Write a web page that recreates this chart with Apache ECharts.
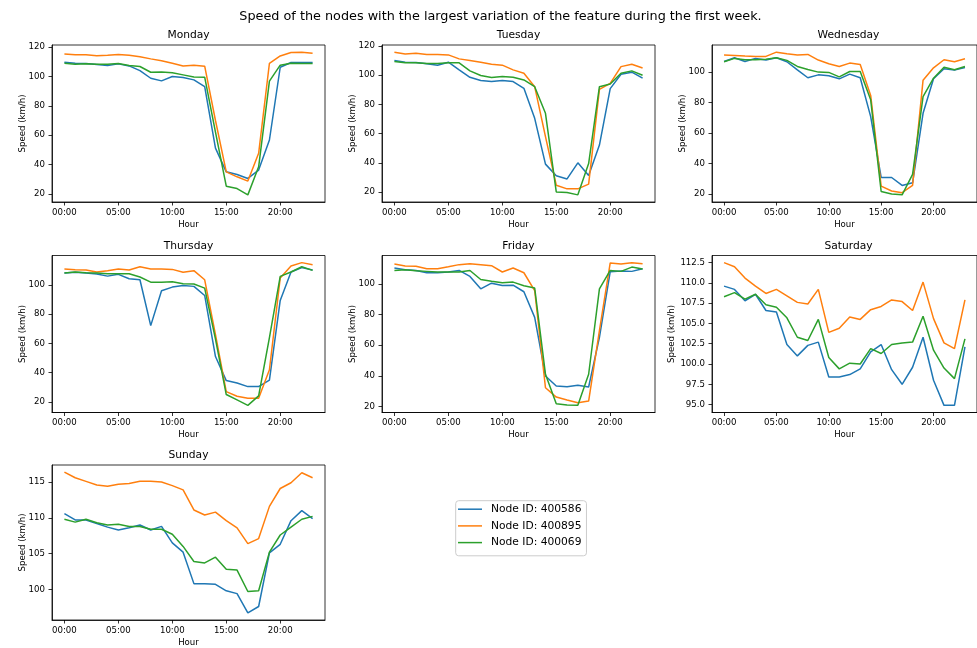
<!DOCTYPE html>
<html>
<head>
<meta charset="utf-8">
<script src="https://cdn.jsdelivr.net/npm/echarts@6/dist/echarts.min.js"></script>
<style>
  html, body { margin: 0; padding: 0; background: #fff; }
  #main { width: 977px; height: 648px; }
</style>
</head>
<body>
<div id="main"></div>
<script>
// hours of the day (x values)
var hours = [0,1,2,3,4,5,6,7,8,9,10,11,12,13,14,15,16,17,18,19,20,21,22,23];
var xTicks = [0, 5, 10, 15, 20];

var nodeNames = ['Node ID: 400586', 'Node ID: 400895', 'Node ID: 400069'];
var colors = ['#1f77b4', '#ff7f0e', '#2ca02c'];

var dayNames = ['Monday', 'Tuesday', 'Wednesday', 'Thursday', 'Friday', 'Saturday', 'Sunday'];

// speed values per day, one array per node (400586, 400895, 400069)
var mon586 = [109.7,109,108.8,108.2,107.5,108.6,107.2,104,98.8,97,100,99.3,97.7,93.1,51.2,35,33.2,30.5,36.2,56.7,106.3,109.5,109.5,109.5];
var mon895 = [115.4,114.8,114.8,114.1,114.5,115,114.5,113.4,112,110.7,109,107.2,107.7,107,70,35,31.6,28.7,47.6,109,114,116.4,116.6,115.9];
var mon069 = [109,108.4,108.6,108.4,108.4,108.8,107.5,106.8,102.9,103.1,102.5,101.1,99.7,99.5,62,25.2,23.6,19.3,38.4,96.8,107.7,109,108.8,108.8];

var tue586 = [110,108.8,108.6,107.7,106.8,108.8,103.6,98.5,96.3,95.6,96.3,95.6,91,70.5,39.2,31.2,29.1,40.1,31.4,52.2,90.8,100.6,102,97.9];
var tue895 = [115.7,114.5,115,114.1,114.1,113.8,111.1,110,108.8,107.4,106.8,103.6,101.3,92.1,58,24.8,22.3,22.3,25.5,90.3,94.4,105.8,107.4,104.9];
var tue069 = [109.3,108.4,108.4,107.9,107.9,108.4,108.4,102.9,99.7,98.3,99,98.5,96.7,92.1,73.9,20.2,19.8,18.2,39.6,92.1,93.9,101.3,102.9,99.9];

var wed586 = [106.8,109.2,106.8,108.8,107.7,109.2,106.6,101.3,96.1,98,97.4,95.4,98.5,96.1,70.6,30.7,30.7,25.5,27.2,72.8,95.4,102,101.1,102.8];
var wed895 = [111,110.7,110.3,110.1,110.1,112.9,111.8,111,111.4,107.7,105.3,103.5,105.7,104.8,84.5,25,21.8,20.7,25.5,94.5,102.6,107.9,106.6,108.5];
var wed069 = [106.6,108.8,107.9,107.9,108.3,109.2,107.5,103.5,101.5,99.8,99.6,96.7,100.2,100.2,81.6,21.5,19.8,19.3,32.7,83.7,95.8,103,101.3,103.5];

var thu586 = [108,108.5,108,107.3,105.9,107.1,104.1,103.4,72.1,95.9,98.4,99.5,98.9,92.7,51,34.6,33,30.5,30.5,34.9,89.3,108.7,111.7,110.1];
var thu895 = [110.7,110.3,110.1,108.7,109.6,110.7,110.1,112.3,110.7,110.7,110.5,108.5,109.6,103.4,66,27.1,23.9,22.5,22.5,42,104.6,112.8,115.1,113.7];
var thu069 = [108,108.7,108.2,108,107.5,107.5,107.5,105.3,101.8,101.8,102.1,100.7,100.5,97.7,63,25.1,21.4,17.7,24.2,64,105.7,108.7,112.3,109.8];

var fri586 = [110.3,109.2,108.7,107.2,107.2,107.7,108.7,104.8,96.7,100.4,98.9,99.1,94.8,78.1,39.9,33.3,32.9,33.8,32.7,65.1,107.9,108.3,108.1,109.8];
var fri895 = [112.9,111.6,111.4,109.8,109.8,111.1,112.5,113.1,112.5,111.8,107.7,110.3,107.2,95.6,32.2,26.1,24.2,22.4,23.5,69.4,113.6,112.9,113.8,113.1];
var fri069 = [108.7,109.2,108.5,108.1,107.7,107.7,107.7,108.7,102.8,101.7,100.7,101.1,98.7,97.2,41,21.7,20.9,20.7,41,96.7,108.7,108.1,110.9,109.6];

var sat586 = [109.6,109.2,107.8,108.6,106.6,106.4,102.4,101,102.3,102.7,98.4,98.4,98.7,99.4,101.5,102.4,99.3,97.5,99.6,103.3,98,94.9,94.9,102.1];
var sat895 = [112.5,112,110.6,109.6,108.7,109.2,108.4,107.6,107.4,109.2,103.9,104.4,105.8,105.5,106.7,107.1,107.9,107.7,106.6,110.1,105.6,102.6,101.9,107.9];
var sat069 = [108.3,108.8,108,108.6,107.3,107,105.7,103.3,102.9,105.5,100.8,99.4,100.1,100,101.9,101.3,102.4,102.6,102.7,105.9,101.7,99.5,98.2,103.1];

var sun586 = [110.6,109.7,109.7,109.2,108.7,108.3,108.6,109,108.3,108.8,106.5,105.2,100.8,100.8,100.7,99.8,99.4,96.7,97.6,105.1,106.3,109.6,111,109.9];
var sun895 = [116.4,115.6,115.1,114.6,114.4,114.7,114.8,115.1,115.1,115,114.5,113.9,111.1,110.4,110.8,109.6,108.6,106.4,107.1,111.6,114.1,114.9,116.3,115.6];
var sun069 = [109.8,109.4,109.8,109.3,109,109.1,108.8,108.8,108.4,108.4,107.7,106,103.9,103.7,104.5,102.8,102.7,99.7,99.8,105.2,107.6,108.7,109.8,110.2];

// y tick labels per day
var yTicks = [
  [20, 40, 60, 80, 100, 120],
  [20, 40, 60, 80, 100, 120],
  [20, 40, 60, 80, 100],
  [20, 40, 60, 80, 100],
  [20, 40, 60, 80, 100],
  [95, 97.5, 100, 102.5, 105, 107.5, 110, 112.5],
  [100, 105, 110, 115]
];

var dayData = [
  [mon586, mon895, mon069],
  [tue586, tue895, tue069],
  [wed586, wed895, wed069],
  [thu586, thu895, thu069],
  [fri586, fri895, fri069],
  [sat586, sat895, sat069],
  [sun586, sun895, sun069]
];

var FONT = 'DejaVu Sans';
var colLeft = [52, 382, 712];
var rowTop = [45, 255.5, 465];
var gw = 273, gh = 157;
var spine = { show: true, onZero: false, lineStyle: { color: '#000', width: 0.8 } };

function pad2(v) { return (v < 10 ? '0' : '') + v + ':00'; }

var grids = [], xAxes = [], yAxes = [], series = [];
var titles = [{
  text: 'Speed of the nodes with the largest variation of the feature during the first week.',
  left: 500.5, top: 10.5, textAlign: 'center', padding: 0,
  textStyle: { fontFamily: FONT, fontSize: 12.8, fontWeight: 'normal', color: '#000', lineHeight: 13 }
}];

dayNames.forEach(function (day, d) {
  var r = Math.floor(d / 3), c = d % 3;
  var left = colLeft[c], top = rowTop[r];
  grids.push({ left: left, top: top, width: gw, height: gh, show: true,
    borderColor: '#000', borderWidth: 0.8, backgroundColor: 'transparent' });

  titles.push({ text: day, left: left + gw / 2, top: top - 16, textAlign: 'center', padding: 0,
    textStyle: { fontFamily: FONT, fontSize: 10.7, fontWeight: 'normal', color: '#000', lineHeight: 13 } });

  // matplotlib-style 5% margins
  var all = [].concat(dayData[d][0], dayData[d][1], dayData[d][2]);
  var lo = Math.min.apply(null, all), hi = Math.max.apply(null, all);
  var m = (hi - lo) * 0.05;

  xAxes.push({
    gridIndex: d, type: 'value', min: -1.15, max: 24.15, position: 'bottom',
    name: 'Hour', nameLocation: 'middle', nameGap: 18, nameMoveOverlap: false,
    nameTextStyle: { fontFamily: FONT, fontSize: 8.6, color: '#000' },
    axisLine: spine,
    axisTick: { show: true, customValues: xTicks, length: 3.5, lineStyle: { color: '#000', width: 0.8 } },
    axisLabel: { customValues: xTicks, margin: 6, fontFamily: FONT, fontSize: 8.6, color: '#000',
      formatter: function (v) { return pad2(v); } },
    splitLine: { show: false }
  });

  yAxes.push({
    gridIndex: d, type: 'value', min: lo - m, max: hi + m, position: 'left',
    name: 'Speed (km/h)', nameLocation: 'middle', nameGap: d === 5 ? 36 : 25, nameMoveOverlap: false,
    nameTextStyle: { fontFamily: FONT, fontSize: 8.6, color: '#000' },
    axisLine: spine,
    axisTick: { show: true, customValues: yTicks[d], length: 3.5, lineStyle: { color: '#000', width: 0.8 } },
    axisLabel: { customValues: yTicks[d], margin: 7, fontFamily: FONT, fontSize: 8.6, color: '#000',
      formatter: d === 5 ? function (v) { return v.toFixed(1); } : function (v) { return String(v); } },
    splitLine: { show: false }
  });

  dayData[d].forEach(function (vals, k) {
    series.push({
      type: 'line', name: nodeNames[k], xAxisIndex: d, yAxisIndex: d,
      data: hours.map(function (h, i) { return [h, vals[i]]; }),
      showSymbol: false, symbol: 'none',
      lineStyle: { width: 1.5, color: colors[k] },
      itemStyle: { color: colors[k] },
      animation: false, silent: true
    });
  });
});

var myChart = echarts.init(document.getElementById('main'));
myChart.setOption({
  animation: false,
  title: titles,
  grid: grids,
  xAxis: xAxes,
  yAxis: yAxes,
  legend: {
    orient: 'vertical', left: 455.7, top: 500.7,
    padding: [2, 5, 6.7, 2.3],
    itemWidth: 24, itemHeight: 1.5, itemGap: 3.7, icon: 'rect',
    borderColor: '#ccc', borderWidth: 1, borderRadius: 3,
    backgroundColor: 'rgba(255,255,255,0.8)',
    data: nodeNames,
    textStyle: { fontFamily: FONT, fontSize: 10.7, color: '#000', lineHeight: 13, padding: [0, 0, 0, 4] }
  },
  series: series
});
</script>
</body>
</html>
